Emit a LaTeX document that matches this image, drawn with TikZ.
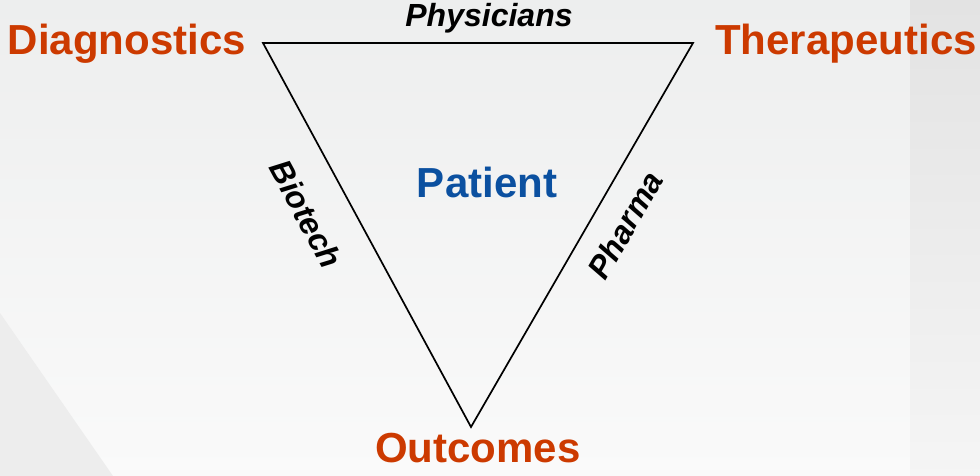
\documentclass[tikz,border=0pt]{standalone}
\usepackage{fontspec}
\setmainfont{Liberation Sans}
\usepackage{xcolor}
\usetikzlibrary{positioning,calc}
\definecolor{rust}{HTML}{CC3A00}
\definecolor{navy}{HTML}{0B50A0}
\definecolor{bgtop}{HTML}{EDEEEE}
\definecolor{bgbot}{HTML}{FAFAFA}

\begin{document}
\begin{tikzpicture}[x=1pt, y=1pt]
        % Styles
        \tikzstyle{corner} = [inner sep=0pt, anchor=base, text=rust, font=\fontsize{42}{42}\selectfont\bfseries]
        \tikzstyle{side} = [inner sep=0pt, text=black, font=\fontsize{32}{32}\selectfont\bfseries\itshape]
        \tikzstyle{centre} = [inner sep=0pt, anchor=base, text=navy, font=\fontsize{42}{42}\selectfont\bfseries]
        \tikzstyle{edge} = [draw, line width=1.7pt, line join=miter]

        % Background
        \shade[top color=bgtop, bottom color=bgbot] (0,0) rectangle (980,-476);
        \shade[top color=black!11, bottom color=black!4] (910,0) rectangle (980,-476);
        \fill[black!7] (0,-313) -- (113,-476) -- (0,-476) -- cycle;
        \useasboundingbox (0,0) rectangle (980,-476);

        % Corners
        \coordinate (vd) at (263,-43);
        \coordinate (vt) at (693,-43);
        \coordinate (vo) at (471,-427);
        \path [edge] (vd) -- (vt) -- (vo) -- cycle;

        % Nodes
        \node [corner] (diag) at (127,-55) {Diagnostics};
        \node [corner] (thera) at (846,-55) {Therapeutics};
        \node [corner] (outc) at (478,-462) {Outcomes};
        \node [side, anchor=base] (phys) at (489,-27) {Physicians};
        \node [centre] (patient) at (487,-197) {Patient};
        \node [side, rotate=-61.6] (biotech) at (306,-214) {Biotech};
        \node [side, rotate=60] (pharma) at (625,-225) {Pharma};
    \end{tikzpicture}
\end{document}
